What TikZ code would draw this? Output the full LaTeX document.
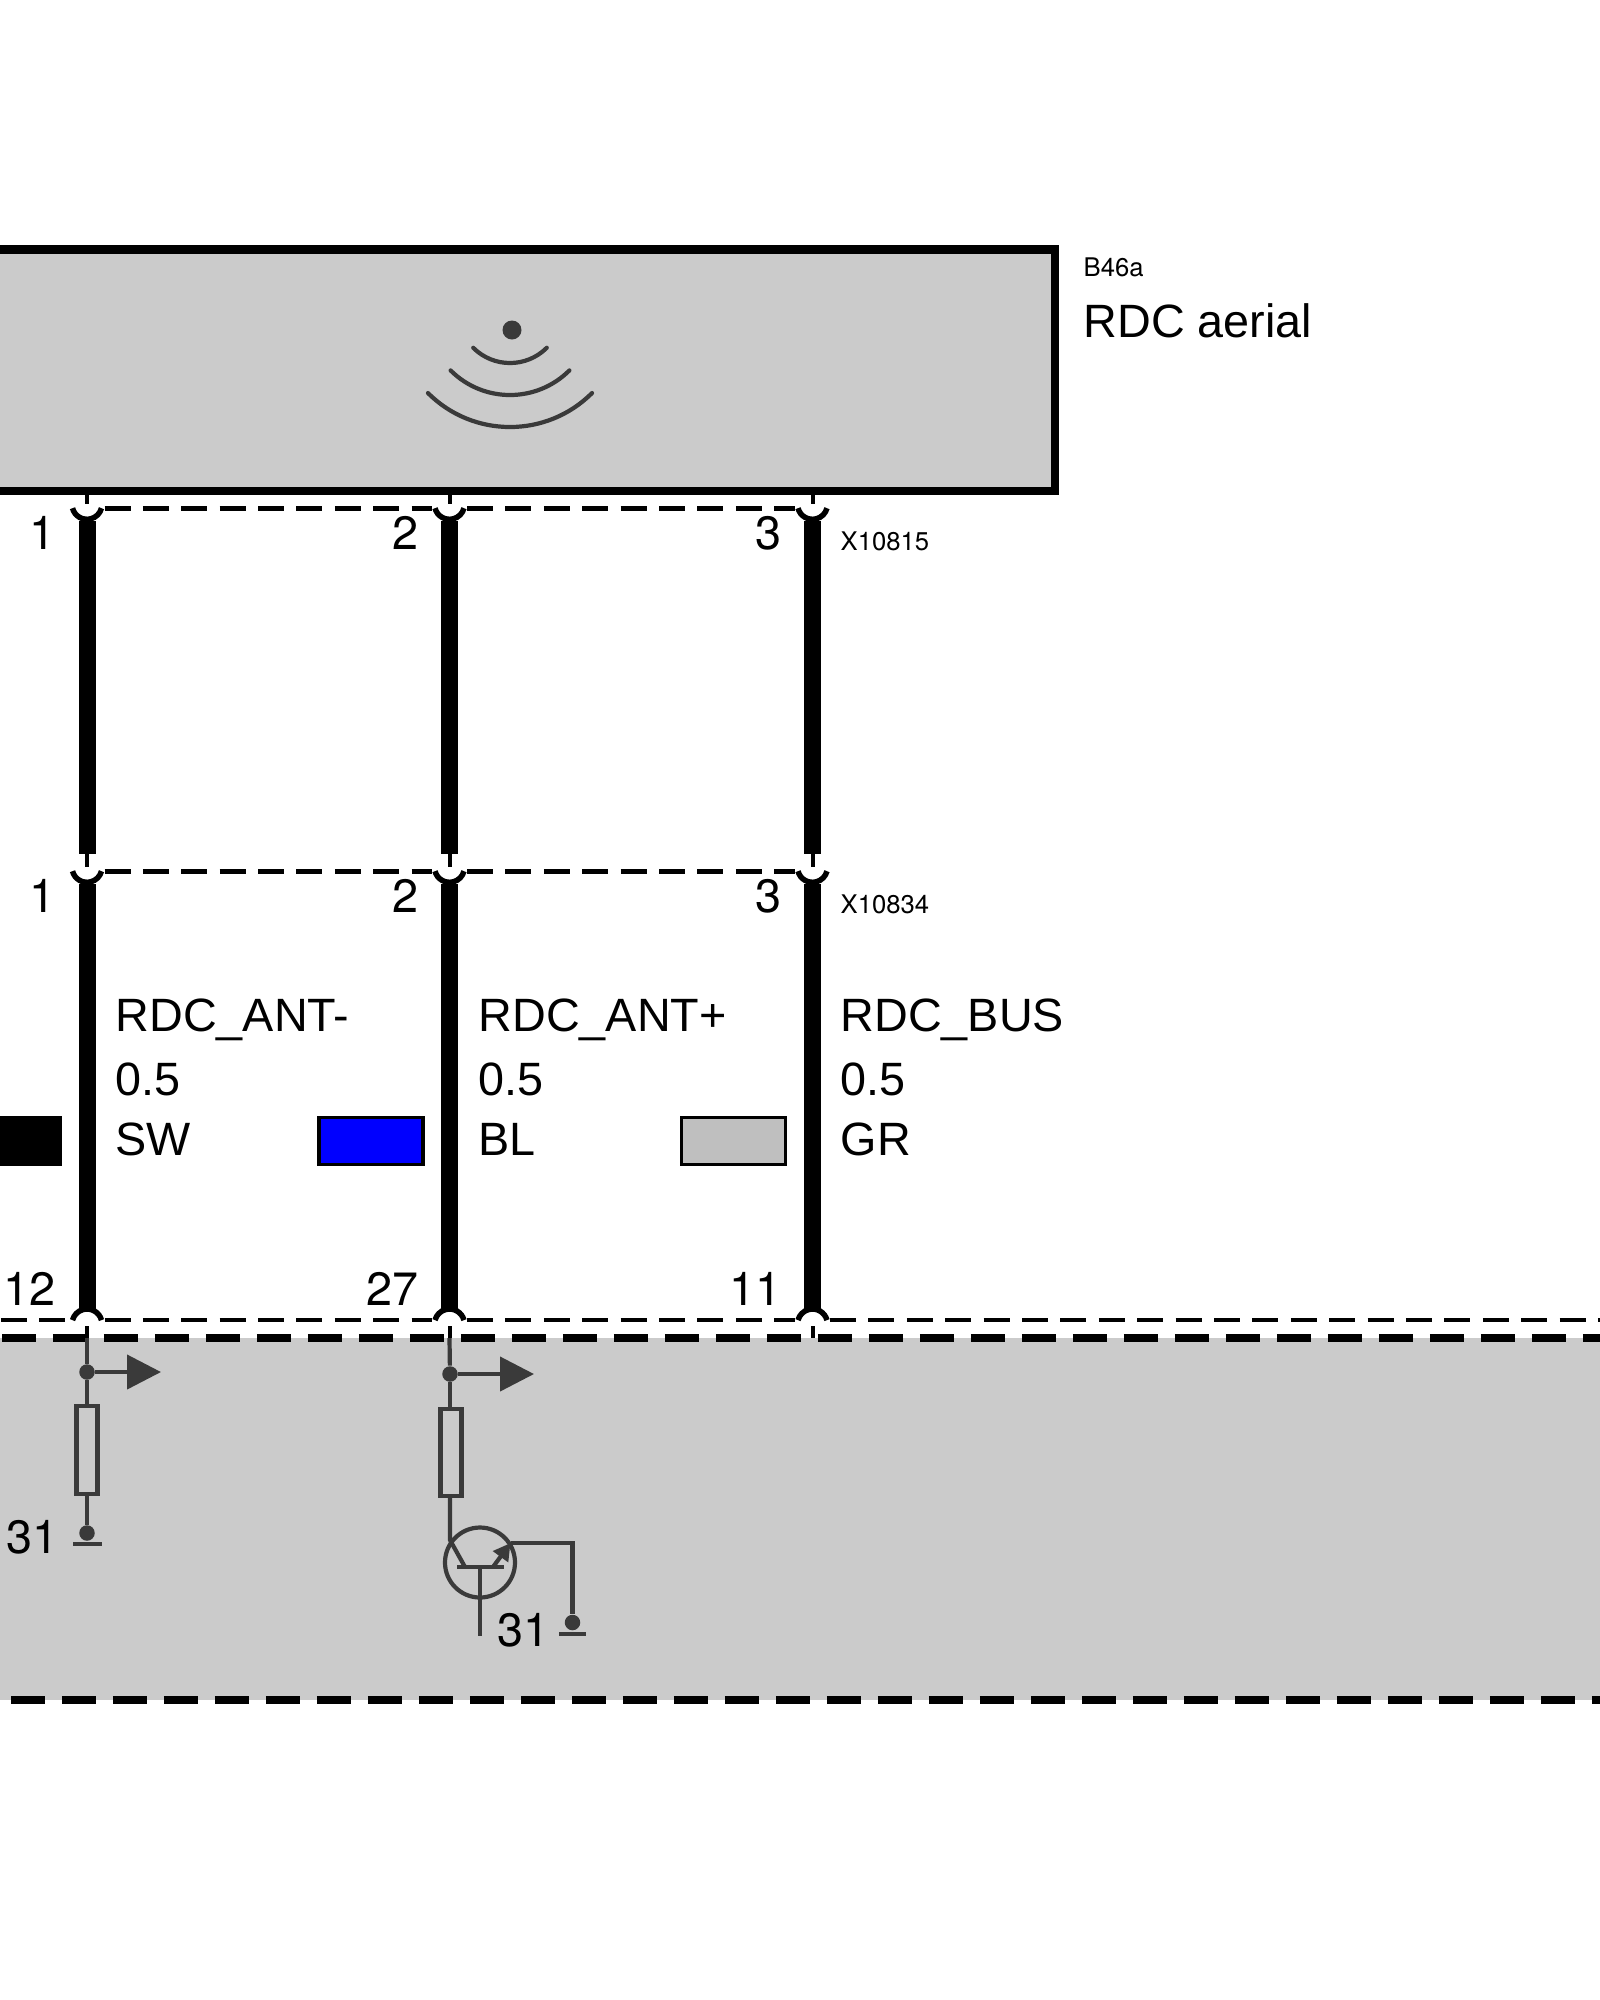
\documentclass[tikz,border=0pt]{standalone}
\usepackage{fontspec}
\setmainfont{Liberation Sans}
\newfontfamily\digitfont{TeX Gyre Heros}
\usetikzlibrary{calc,arrows.meta}

\definecolor{panelgray}{HTML}{CBCBCB}
\definecolor{circuitgray}{HTML}{3A3A3A}
\tikzset{
  bigtext/.style={inner sep=0pt,anchor=base west,font=\fontsize{13.3}{16}\selectfont},
  pintext/.style={inner sep=0pt,anchor=base east,font=\digitfont\fontsize{13.3}{16}\selectfont},
  smalltext/.style={inner sep=0pt,anchor=base west,font=\digitfont\fontsize{7.3}{9}\selectfont},
  pinnode/.style={circle,inner sep=0pt,outer sep=0pt,minimum size=3.5mm},
  pinarc/.style={line width=0.55mm},
  wire/.style={line width=1.7mm},
  stub/.style={line width=0.4mm},
  pindash/.style={line width=0.46mm,dash pattern=on 2.6mm off 1.24mm},
  framedash/.style={line width=0.86mm,dash pattern=on 3.4mm off 1.7mm},
  circuit/.style={color=circuitgray,line width=0.42mm},
  junction/.style={circle,fill=circuitgray,inner sep=0pt,minimum size=1.55mm},
  resistor/.style={draw=circuitgray,line width=0.42mm,inner sep=0pt,outer sep=0pt,minimum width=2.1mm,minimum height=8.75mm},
  swatch/.style={draw=black,line width=0.37mm,inner sep=0pt,outer sep=0pt,minimum width=10.4mm,minimum height=4.7mm},
}

\begin{document}
\begin{tikzpicture}[x=0.1mm,y=0.1mm]
  \path[use as bounding box,clip] (0,0) rectangle (1600,-2000);

  %% Aerial box and control unit panel
  \node[draw=black,fill=panelgray,line width=0.88mm,inner sep=0pt,outer sep=0pt,minimum width=110.5mm,minimum height=24.15mm] (AERIAL) at (502.5,-370.25) {};
  \node[fill=panelgray,inner sep=0pt,outer sep=0pt,minimum width=164mm,minimum height=36.2mm] (PANEL) at (800,-1519) {};

  %% Aerial symbol
  \node[circle,fill=circuitgray,inner sep=0pt,minimum size=1.9mm] (ANTDOT) at (512,-330) {};
  \coordinate (ANTC) at (510,-311);
  \foreach \r in {52,84,116}
  {
    \draw[circuit,line cap=round] (ANTC) ++(225:\r) arc (225:315:\r);
  }

  \node[smalltext] (B46A) at (1083,-276.7) {B46a};
  \node[bigtext] (RDCAERIAL) at (1083,-337) {RDC aerial};
  \node[smalltext] (X10815) at (840,-550) {X10815};
  \node[smalltext] (X10834) at (840,-913) {X10834};

  %% Three rows of pins
  \foreach \n/\x/\lab in {1/87/12,2/449.5/27,3/812.5/11}
  {
    \node[pinnode] (A\n) at (\x,-508.3) {};
    \node[pinnode] (B\n) at (\x,-871.3) {};
    \node[pinnode] (C\n) at (\x,-1320) {};
    \coordinate (T\n) at (\x,-854);
    \coordinate (E\n) at (\x,-1338);

    \draw[pinarc] ($(A\n)+(0,4)$) ++(195:15) arc (195:345:15);
    \draw[pinarc] ($(B\n)+(0,4)$) ++(195:15) arc (195:345:15);
    \draw[pinarc] ($(C\n)+(0,-4)$) ++(15:15) arc (15:165:15);

    \draw[wire,shorten <=1.3mm] (A\n.center) -- (T\n);
    \draw[wire,shorten <=1.3mm,shorten >=1.1mm] (B\n.center) -- (C\n.center);
    \draw[stub,shorten >=0.4mm] (AERIAL.south -| A\n) -- (A\n.center);
    \draw[stub,shorten >=0.4mm] (T\n) -- (B\n.center);
    \draw[stub,shorten <=0.6mm] (C\n.center) -- (E\n);

    \node[pintext] (AL\n) at ($(A\n)+(-30.5,-41)$) {\n};
    \node[pintext] (BL\n) at ($(B\n)+(-30.5,-41)$) {\n};
    \node[pintext] (CL\n) at ($(C\n)+(-30.5,15)$) {\lab};
  }

  %% Dashed connector outlines
  \coordinate (CSTART) at (1,-1320);
  \coordinate (CEND) at (1600,-1320);
  \foreach \a/\b in {1/2,2/3}
  {
    \draw[pindash] (A\a.east) -- (A\b.west);
    \draw[pindash] (B\a.east) -- (B\b.west);
    \draw[pindash] (C\a.east) -- (C\b.west);
  }
  \draw[pindash] (CSTART) -- (C1.west);
  \draw[pindash] (C3.east) -- (CEND);

  %% Panel outline
  \coordinate (PTL) at (2,-1338);
  \coordinate (PTR) at (1600,-1338);
  \coordinate (PBL) at (11,-1700);
  \coordinate (PBR) at (1600,-1700);
  \draw[framedash] (PTL) -- (PTR);
  \draw[framedash] (PBL) -- (PBR);

  %% Wire labels and colour swatches
  \foreach \n/\x/\sig/\col in {1/115/RDC\_ANT-/SW,2/478/RDC\_ANT+/BL,3/840/RDC\_BUS/GR}
  {
    \node[bigtext] (SIG\n) at (\x,-1031.5) {\sig};
    \node[bigtext] (SIZE\n) at (\x,-1095) {0.5};
    \node[bigtext] (COL\n) at (\x,-1155) {\col};
  }
  \node[swatch,fill=black] (SWATCH1) at (8,-1141) {};
  \node[swatch,fill=blue] (SWATCH2) at (371,-1141) {};
  \node[swatch,fill=black!25] (SWATCH3) at (733.5,-1141) {};

  %% Left circuit
  \node[junction] (J1) at (87,-1372) {};
  \node[resistor] (R1) at (87,-1450) {};
  \node[junction] (G1) at (87,-1533) {};
  \coordinate (OUT1) at (161,-1372);
  \coordinate (BARL1) at (73,-1544);
  \coordinate (BARR1) at (101.5,-1544);
  \draw[circuit] (E1) -- (J1);
  \draw[circuit] (J1) -- (R1);
  \draw[circuit] (R1) -- (G1);
  \draw[circuit,-{Triangle[length=3.4mm,width=3.4mm]}] (J1) -- (OUT1);
  \draw[circuit] (BARL1) -- (BARR1);
  \node[pintext] (GND1) at (59,-1553) {31};

  %% Right circuit with transistor
  \node[junction] (J2) at (450,-1374) {};
  \node[resistor] (R2) at (451,-1452.5) {};
  \node[circle,draw=circuitgray,line width=0.42mm,inner sep=0pt,outer sep=0pt,minimum size=7mm] (Q) at (480,-1562.5) {};
  \node[junction] (G2) at (572.5,-1622.5) {};
  \coordinate (OUT2) at (534,-1374);
  \coordinate (COLL) at (450,-1540);
  \coordinate (QC) at (465,-1567);
  \coordinate (QE) at (493,-1567);
  \coordinate (EM) at (510.5,-1543);
  \coordinate (BARL) at (457,-1567);
  \coordinate (BARR) at (504,-1567);
  \coordinate (BASE) at (480,-1567);
  \coordinate (BASEEND) at (480,-1636);
  \coordinate (BARL2) at (559,-1634);
  \coordinate (BARR2) at (586,-1634);
  \draw[circuit] (E2) -- (J2);
  \draw[circuit] (J2) -- (R2.north -| J2);
  \draw[circuit,-{Triangle[length=3.4mm,width=3.4mm]}] (J2) -- (OUT2);
  \draw[circuit] (R2.south -| J2) -- (COLL) -- (QC);
  \draw[circuit] (BARL) -- (BARR);
  \draw[circuit] (BASE) -- (BASEEND);
  \draw[circuit,-{Triangle[length=1.7mm,width=1.8mm]}] (QE) -- (EM);
  \draw[circuit] (EM) -| (G2);
  \draw[circuit] (BARL2) -- (BARR2);
  \node[pintext] (GND2) at (550,-1646.5) {31};
\end{tikzpicture}
\end{document}
